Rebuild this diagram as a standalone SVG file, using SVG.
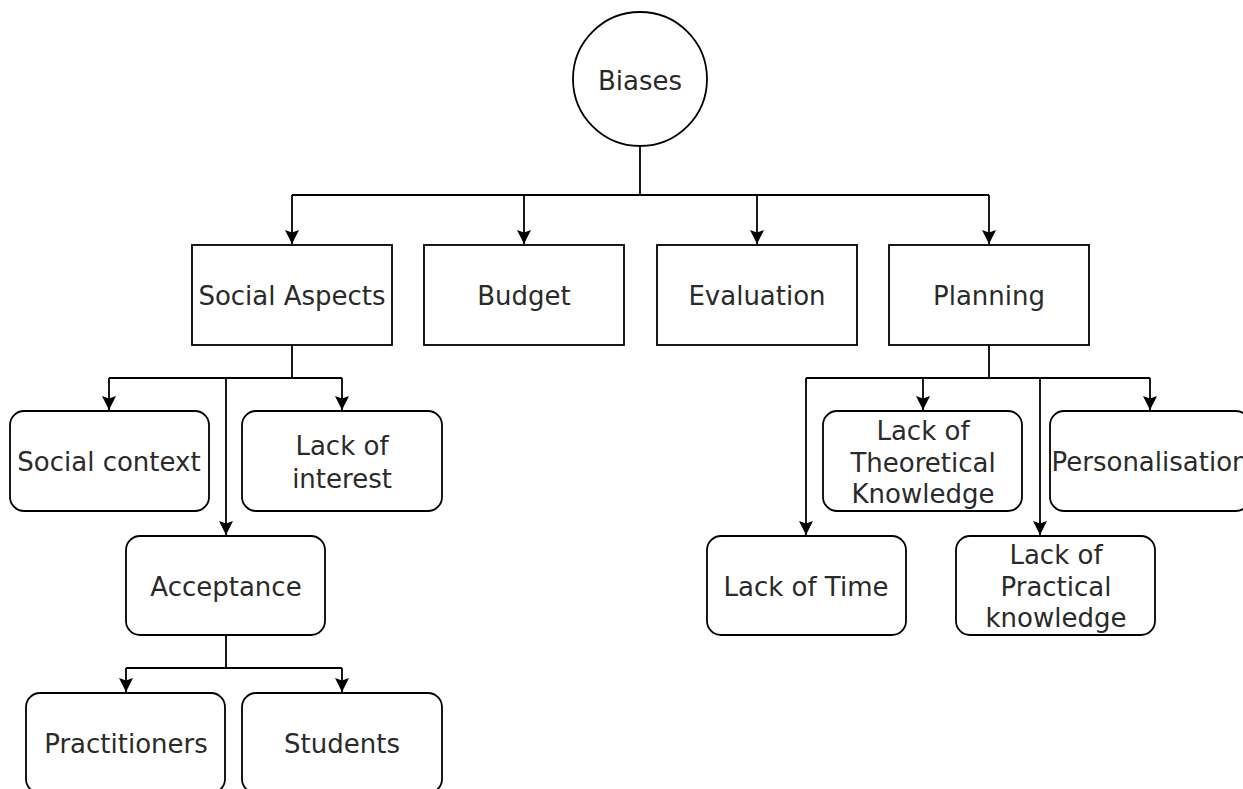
<svg xmlns="http://www.w3.org/2000/svg" width="1243" height="789" viewBox="0 0 1243 789">
  <style>
    .box { fill: #ffffff; stroke: #000000; stroke-width: 1.8; }
    .edge { fill: none; stroke: #000000; stroke-width: 1.8; marker-end: url(#arrow); }
    .line { fill: none; stroke: #000000; stroke-width: 1.8; }
    text { font-family: "DejaVu Sans", Verdana, sans-serif; font-size: 26px; fill: #2a2a2a; text-anchor: middle; }
  </style>
  <defs>
    <!-- filled classic arrowhead with a shallow notch -->
    <marker id="arrow" viewBox="0 0 16 16" refX="15" refY="8" markerWidth="16" markerHeight="16" markerUnits="userSpaceOnUse" orient="auto">
      <path d="M1,1 L15,8 L1,15 L3.5,8 Z" fill="#000000"/>
    </marker>
  </defs>
  <rect width="1243" height="789" fill="#ffffff"/>

  <!-- connectors -->
  <g id="connectors">
    <!-- Biases to first level -->
    <path class="line" d="M640,146 V195 M292,195 H989"/>
    <path class="edge" d="M292,195 V244"/>
    <path class="edge" d="M524,195 V244"/>
    <path class="edge" d="M757,195 V244"/>
    <path class="edge" d="M989,195 V244"/>
    <!-- Social Aspects subtree -->
    <path class="line" d="M292,345 V378 M109,378 H342"/>
    <path class="edge" d="M109,378 V410"/>
    <path class="edge" d="M342,378 V410"/>
    <path class="edge" d="M226,378 V535"/>
    <!-- Acceptance subtree -->
    <path class="line" d="M226,635 V668 M126,668 H342"/>
    <path class="edge" d="M126,668 V692"/>
    <path class="edge" d="M342,668 V692"/>
    <!-- Planning subtree -->
    <path class="line" d="M989,345 V378 M806,378 H1150"/>
    <path class="edge" d="M923,378 V410"/>
    <path class="edge" d="M1150,378 V410"/>
    <path class="edge" d="M806,378 V535"/>
    <path class="edge" d="M1040,378 V535"/>
  </g>

  <g id="biases">
    <circle class="box" cx="640" cy="79" r="67"/>
    <text x="640" y="90">Biases</text>
  </g>

  <g id="social-aspects">
    <rect class="box" x="192" y="245" width="200" height="100"/>
    <text x="292" y="305">Social Aspects</text>
  </g>
  <g id="budget">
    <rect class="box" x="424" y="245" width="200" height="100"/>
    <text x="524" y="305">Budget</text>
  </g>
  <g id="evaluation">
    <rect class="box" x="657" y="245" width="200" height="100"/>
    <text x="757" y="305">Evaluation</text>
  </g>
  <g id="planning">
    <rect class="box" x="889" y="245" width="200" height="100"/>
    <text x="989" y="305">Planning</text>
  </g>

  <g id="social-context">
    <rect class="box" x="10" y="411" width="199" height="100" rx="14"/>
    <text x="109" y="471">Social context</text>
  </g>
  <g id="lack-of-interest">
    <rect class="box" x="242" y="411" width="200" height="100" rx="14"/>
    <text x="342" y="455">Lack of</text>
    <text x="342" y="488">interest</text>
  </g>
  <g id="acceptance">
    <rect class="box" x="126" y="536" width="199" height="99" rx="14"/>
    <text x="226" y="596">Acceptance</text>
  </g>
  <g id="practitioners">
    <rect class="box" x="26" y="693" width="199" height="100" rx="14"/>
    <text x="126" y="753">Practitioners</text>
  </g>
  <g id="students">
    <rect class="box" x="242" y="693" width="200" height="100" rx="14"/>
    <text x="342" y="753">Students</text>
  </g>

  <g id="lack-of-theoretical-knowledge">
    <rect class="box" x="823" y="411" width="199" height="100" rx="14"/>
    <text x="923" y="440">Lack of</text>
    <text x="923" y="472">Theoretical</text>
    <text x="923" y="503">Knowledge</text>
  </g>
  <g id="personalisation">
    <rect class="box" x="1050" y="411" width="200" height="100" rx="14"/>
    <text x="1150" y="471">Personalisation</text>
  </g>
  <g id="lack-of-time">
    <rect class="box" x="707" y="536" width="199" height="99" rx="14"/>
    <text x="806" y="596">Lack of Time</text>
  </g>
  <g id="lack-of-practical-knowledge">
    <rect class="box" x="956" y="536" width="199" height="99" rx="14"/>
    <text x="1056" y="564">Lack of</text>
    <text x="1056" y="596">Practical</text>
    <text x="1056" y="627">knowledge</text>
  </g>
</svg>
